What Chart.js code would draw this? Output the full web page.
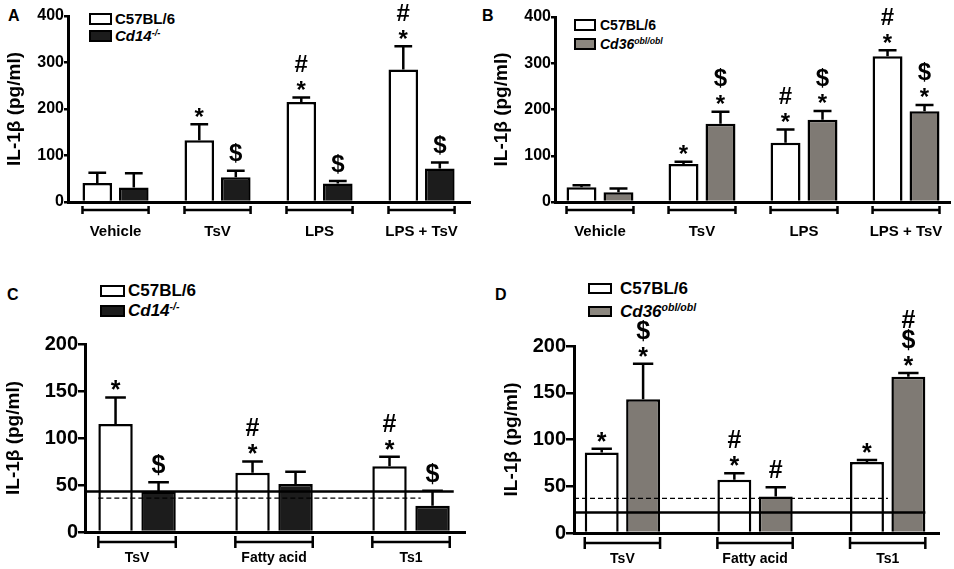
<!DOCTYPE html>
<html>
<head>
<meta charset="utf-8">
<script src="https://cdn.jsdelivr.net/npm/chart.js@4.4.1/dist/chart.umd.min.js"></script>
<style>
  body { margin: 0; background: #fff; width: 954px; height: 569px; position: relative; overflow: hidden;
         font-family: "Liberation Sans", Arial, sans-serif; color: #000; }
  .panel { position: absolute; }
  .letter { position: absolute; font-weight: bold; font-size: 16px; line-height: 16px; }
  .legend { position: absolute; font-weight: bold; }
  .legend div { display: flex; align-items: center; white-space: nowrap; }
  .legend .box { display: inline-block; box-sizing: border-box; border: 2px solid #000; }
  .legend sup { font-size: 62%; font-style: italic; vertical-align: 0; position: relative; top: -0.55em; }
</style>
</head>
<body>

<div class="letter" style="left:8px;top:8px">A</div>
<div class="letter" style="left:482px;top:8px">B</div>
<div class="letter" style="left:7px;top:287px">C</div>
<div class="letter" style="left:495px;top:287px">D</div>

<div class="legend" style="left:89px;top:10px;font-size:15px">
  <div style="height:17px"><span class="box" style="width:23px;height:12px;background:#fff;margin-right:3px"></span><span>C57BL/6</span></div>
  <div style="height:17px"><span class="box" style="width:23px;height:12px;background:#1c1c1c;margin-right:3px"></span><span><i>Cd14</i><sup>-/-</sup></span></div>
</div>
<div class="legend" style="left:574px;top:15px;font-size:14px">
  <div style="height:19.5px"><span class="box" style="width:22px;height:12px;background:#fff;margin-right:4px"></span><span>C57BL/6</span></div>
  <div style="height:19.5px"><span class="box" style="width:22px;height:12px;background:#8c877f;margin-right:4px"></span><span><i>Cd36</i><sup>obl/obl</sup></span></div>
</div>
<div class="legend" style="left:100px;top:281px;font-size:17px">
  <div style="height:20px"><span class="box" style="width:25px;height:12px;background:#fff;margin-right:3px"></span><span>C57BL/6</span></div>
  <div style="height:20px"><span class="box" style="width:25px;height:12px;background:#1c1c1c;margin-right:3px"></span><span><i>Cd14</i><sup>-/-</sup></span></div>
</div>
<div class="legend" style="left:588px;top:277px;font-size:17px">
  <div style="height:23px"><span class="box" style="width:24px;height:11px;background:#fff;margin-right:8px"></span><span>C57BL/6</span></div>
  <div style="height:23px"><span class="box" style="width:24px;height:11px;background:#8c877f;margin-right:8px"></span><span><i>Cd36</i><sup>obl/obl</sup></span></div>
</div>

<script>
// categories and tick labels
const groupsAB = ['Vehicle', 'TsV', 'LPS', 'LPS + TsV'];
const groupsCD = ['TsV', 'Fatty acid', 'Ts1'];
const ticksAB = [0, 100, 200, 300, 400];
const ticksCD = [0, 50, 100, 150, 200];

// A: C57BL/6 vs Cd14-/-
const aC57 = [41, 133, 215, 285];
const aC57Sem = [22, 34, 10, 50];
const aC57Sig = ['', '*', '*#', '*#'];
const aCd14 = [31, 53, 40, 72];
const aCd14Sem = [31, 14, 5, 13];
const aCd14Sig = ['', '$', '$', '$'];

// B: C57BL/6 vs Cd36 obl/obl
const bC57 = [32, 82, 128, 315];
const bC57Sem = [4, 5, 29, 13];
const bC57Sig = ['', '*', '*#', '*#'];
const bCd36 = [21, 169, 178, 196];
const bCd36Sem = [8, 26, 19, 14];
const bCd36Sig = ['', '*$', '*$', '*$'];

// C: C57BL/6 vs Cd14-/-
const cC57 = [115, 63, 70];
const cC57Sem = [28, 12, 10];
const cC57Sig = ['*', '*#', '*#'];
const cCd14 = [43, 51, 28];
const cCd14Sem = [10, 13, 16];
const cCd14Sig = ['$', '', '$'];
const cBaseSolid = 43;
const cBaseDashed = 36;

// D: C57BL/6 vs Cd36 obl/obl
const dC57 = [86, 57, 76];
const dC57Sem = [4, 7, 2];
const dC57Sig = ['*', '*#', '*'];
const dCd36 = [143, 39, 167];
const dCd36Sem = [38, 10, 4];
const dCd36Sig = ['*$', '#', '*$#'];
const dBaseDashed = 37;
const dBaseSolid = 22;

const FONT = "'Liberation Sans', Arial, sans-serif";
Chart.defaults.font.family = FONT;
Chart.defaults.color = '#000';

const WHITE = '#ffffff', BLACK = '#1c1c1c', GRAY = '#7f7a74';

// bar edges, taken from the drawn bar elements
function barLeft(chart, d, i) { const b = chart.getDatasetMeta(d).data[i]; return b.x - b.width / 2; }
function barRight(chart, d, i) { const b = chart.getDatasetMeta(d).data[i]; return b.x + b.width / 2; }

function drawPanel(p) {
    const box = document.createElement('div');
    box.className = 'panel';
    box.style.left = p.left + 'px';
    box.style.top = p.top + 'px';
    box.style.width = p.w + 'px';
    box.style.height = p.h + 'px';
    const cv = document.createElement('canvas');
    box.appendChild(cv);
    document.body.appendChild(box);

    // error bars, significance signs, brackets, reference lines
    const marks = {
        id: 'marks_' + p.id,
        afterDatasetsDraw(chart) {
            const ctx = chart.ctx;
            const y = chart.scales.y;
            const area = chart.chartArea;
            ctx.save();
            ctx.strokeStyle = '#000';
            ctx.fillStyle = '#000';

            (p.refLines || []).forEach(r => {
                const yy = y.getPixelForValue(r.value);
                ctx.setLineDash(r.dash ? [5, 3] : []);
                ctx.lineWidth = r.dash ? 1.4 : 2.5;
                ctx.beginPath();
                ctx.moveTo(r.from(chart), yy);
                ctx.lineTo(r.to(chart), yy);
                ctx.stroke();
            });
            ctx.setLineDash([]);

            ctx.lineWidth = 2.5;
            p.series.forEach((s, d) => {
                const meta = chart.getDatasetMeta(d);
                meta.data.forEach((b, i) => {
                    const top = y.getPixelForValue(s.values[i] + s.sem[i]);
                    const cap = b.width * 0.3;
                    ctx.beginPath();
                    ctx.moveTo(b.x, b.y);
                    ctx.lineTo(b.x, top);
                    ctx.moveTo(b.x - cap, top);
                    ctx.lineTo(b.x + cap, top);
                    ctx.stroke();

                    ctx.font = 'bold ' + p.sigSize + 'px ' + FONT;
                    ctx.textAlign = 'center';
                    ctx.textBaseline = 'middle';
                    let cy = top - (s.sig[i][0] === '*' ? 12 : 16);
                    s.sig[i].split('').forEach((c, k) => {
                        if (k > 0) cy -= 20;
                        const dy = c === '*' ? p.sigSize * 0.24 : 0;
                        ctx.fillText(c, b.x, cy + dy);
                    });
                });
            });

            const last = p.series.length - 1;
            const by = area.bottom + p.bracketGap;
            ctx.lineWidth = 2.5;
            p.labels.forEach((l, i) => {
                const x0 = barLeft(chart, 0, i), x1 = barRight(chart, last, i);
                ctx.beginPath();
                ctx.moveTo(x0, by); ctx.lineTo(x1, by);
                ctx.moveTo(x0, by - p.bracketCap); ctx.lineTo(x0, by + p.bracketCap);
                ctx.moveTo(x1, by - p.bracketCap); ctx.lineTo(x1, by + p.bracketCap);
                ctx.stroke();
            });
            ctx.restore();
        }
    };

    new Chart(cv, {
        type: 'bar',
        data: {
            datasets: p.series.map(s => ({
                data: s.values.map((v, i) => ({ x: i, y: v })),
                backgroundColor: s.fill,
                borderColor: '#000',
                borderWidth: 2.5,
                categoryPercentage: p.catPct,
                barPercentage: p.barPct
            }))
        },
        options: {
            responsive: true,
            maintainAspectRatio: false,
            animation: false,
            layout: {
                padding: { left: 0, top: p.plotTop - p.top, right: p.left + p.w - p.plotRight, bottom: 0 }
            },
            plugins: { legend: { display: false }, tooltip: { enabled: false } },
            scales: {
                x: {
                    type: 'linear',
                    min: p.xMin,
                    max: p.xMax,
                    offset: false,
                    afterBuildTicks: s => { s.ticks = p.labels.map((l, i) => ({ value: i })); },
                    afterFit: s => { s.height = p.top + p.h - p.axisY; },
                    ticks: {
                        autoSkip: false,
                        maxRotation: 0,
                        padding: 0,
                        callback: v => p.labels[v],
                        font: { size: p.labelSize, weight: 'bold' },
                        color: '#000'
                    },
                    grid: { display: false, drawTicks: true, tickLength: p.labelGap },
                    border: { display: true, color: '#000', width: 3 }
                },
                y: {
                    min: p.ticks[0],
                    max: p.ticks[p.ticks.length - 1],
                    afterBuildTicks: s => { s.ticks = p.ticks.map(v => ({ value: v })); },
                    afterFit: s => { s.width = p.axisX - p.left; },
                    ticks: { padding: 0, font: { size: p.tickSize, weight: 'bold' }, color: '#000' },
                    grid: { display: true, drawOnChartArea: false, drawTicks: true, tickLength: p.tickLen, color: '#000', lineWidth: 2.5 },
                    border: { display: true, color: '#000', width: 3 },
                    title: {
                        display: true,
                        text: 'IL-1β (pg/ml)',
                        color: '#000',
                        font: { size: p.titleSize, weight: 'bold' },
                        padding: { top: p.titlePad, bottom: 0 }
                    }
                }
            }
        },
        plugins: [marks]
    });
}

drawPanel({
    id: 'A', left: 0, top: 0, w: 477, h: 250,
    axisX: 68, axisY: 202, plotTop: 16, plotRight: 470,
    labels: groupsAB, ticks: ticksAB, xMin: -0.466, xMax: 3.475, catPct: 0.716, barPct: 0.81,
    tickSize: 16, tickLen: 4, titleSize: 19, titlePad: 3, labelSize: 15, labelGap: 21,
    sigSize: 24, bracketGap: 8, bracketCap: 4,
    series: [
        { values: aC57, sem: aC57Sem, sig: aC57Sig, fill: WHITE },
        { values: aCd14, sem: aCd14Sem, sig: aCd14Sig, fill: BLACK }
    ]
});

drawPanel({
    id: 'B', left: 477, top: 0, w: 477, h: 250,
    axisX: 555, axisY: 202, plotTop: 17, plotRight: 950,
    labels: groupsAB, ticks: ticksAB, xMin: -0.441, xMax: 3.431, catPct: 0.725, barPct: 0.81,
    tickSize: 16, tickLen: 4, titleSize: 19, titlePad: 13, labelSize: 15, labelGap: 21,
    sigSize: 24, bracketGap: 8, bracketCap: 4,
    series: [
        { values: bC57, sem: bC57Sem, sig: bC57Sig, fill: WHITE },
        { values: bCd36, sem: bCd36Sem, sig: bCd36Sig, fill: GRAY }
    ]
});

drawPanel({
    id: 'C', left: 0, top: 250, w: 477, h: 319,
    axisX: 85, axisY: 532, plotTop: 344, plotRight: 465,
    labels: groupsCD, ticks: ticksCD, xMin: -0.38, xMax: 2.394, catPct: 0.628, barPct: 0.8,
    tickSize: 20, tickLen: 7, titleSize: 19, titlePad: 2, labelSize: 14, labelGap: 18,
    sigSize: 25, bracketGap: 10, bracketCap: 6,
    series: [
        { values: cC57, sem: cC57Sem, sig: cC57Sig, fill: WHITE },
        { values: cCd14, sem: cCd14Sem, sig: cCd14Sig, fill: BLACK }
    ],
    refLines: [
        { value: cBaseSolid, dash: false, from: c => c.chartArea.left, to: c => barRight(c, 1, 2) + 4 },
        { value: cBaseDashed, dash: true, from: c => barLeft(c, 0, 0), to: c => barRight(c, 0, 2) + 14 }
    ]
});

drawPanel({
    id: 'D', left: 477, top: 250, w: 477, h: 319,
    axisX: 574, axisY: 533, plotTop: 346, plotRight: 939,
    labels: groupsCD, ticks: ticksCD, xMin: -0.365, xMax: 2.387, catPct: 0.624, barPct: 0.82,
    tickSize: 20, tickLen: 8, titleSize: 19, titlePad: 23, labelSize: 14, labelGap: 18,
    sigSize: 25, bracketGap: 10, bracketCap: 6,
    series: [
        { values: dC57, sem: dC57Sem, sig: dC57Sig, fill: WHITE },
        { values: dCd36, sem: dCd36Sem, sig: dCd36Sig, fill: GRAY }
    ],
    refLines: [
        { value: dBaseDashed, dash: true, from: c => c.chartArea.left, to: c => barRight(c, 0, 2) + 4 },
        { value: dBaseSolid, dash: false, from: c => c.chartArea.left, to: c => barRight(c, 1, 2) }
    ]
});
</script>
</body>
</html>
